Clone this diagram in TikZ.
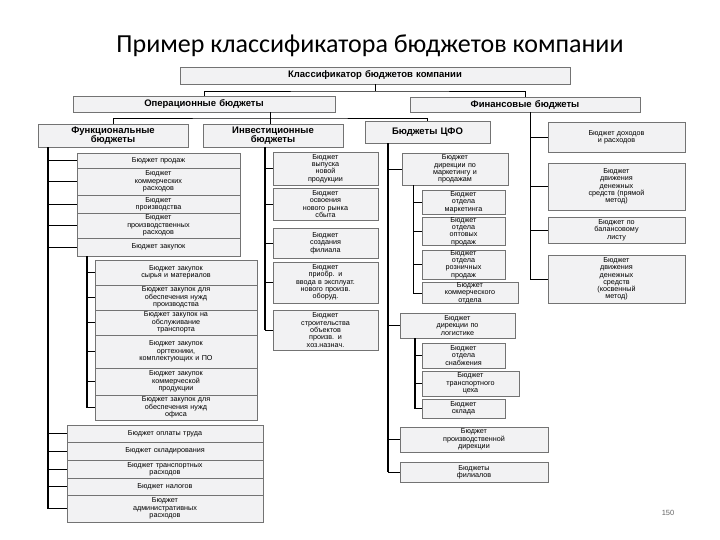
\documentclass[tikz,border=0pt]{standalone}
\usepackage{fontspec}
\setmainfont{Liberation Sans}
\newfontfamily\titlefont{Carlito}
\begin{document}
\begin{tikzpicture}[x=1pt,y=-1pt,
 bx/.style={draw=black!55,line width=0.6pt,fill=blue!8!black!5,align=center,inner sep=0pt,font=\fontsize{7.2}{7.3}\selectfont},
 hd/.style={font=\fontsize{9.5}{9.5}\selectfont\bfseries},
 tr/.style={line width=1.4pt,black},
 br/.style={line width=0.9pt,black}]
\useasboundingbox (0,0) rectangle (720,540);
\newcommand\bx[7][]{\pgfmathsetmacro\bw{#5-#3}\pgfmathsetmacro\bh{#6-#4}\pgfmathsetmacro\tw{#5-#3-2}%
 \node[bx,#1,minimum width=\bw pt,minimum height=\bh pt,text width=\tw pt] (#2) at ({(#3+#5)/2},{(#4+#6)/2}) {#7};}
\node[font=\titlefont\fontsize{26}{28}\selectfont] (title) at (370,46) {Пример классификатора бюджетов компании};
\bx[hd]{top}{180}{67}{570}{84}{Классификатор бюджетов компании}
\bx[hd]{op}{73}{96}{335}{112}{Операционные бюджеты}
\bx[hd]{fin}{410}{97}{640}{112}{Финансовые бюджеты}
\bx[hd]{func}{38}{124}{188}{147}{Функциональные\\бюджеты}
\bx[hd]{inv}{203}{124}{343}{147}{Инвестиционные\\бюджеты}
\bx[hd]{cfo}{365}{121}{490}{143}{Бюджеты ЦФО}
% financial
\bx{f1}{548}{122}{685}{152}{Бюджет доходов\\и расходов}
\bx{f2}{548}{163}{685}{210}{Бюджет\\движения\\денежных\\средств (прямой\\метод)}
\bx{f3}{548}{217}{685}{243}{Бюджет по\\балансовому\\листу}
\bx{f4}{548}{255}{685}{303}{Бюджет\\движения\\денежных\\средств\\(косвенный\\метод)}
% cfo
\bx{c1}{402}{153}{508}{185}{Бюджет\\дирекции по\\маркетингу и\\продажам}
\bx{c11}{422}{190}{505}{214}{Бюджет\\отдела\\маркетинга}
\bx{c12}{422}{218}{505}{245}{Бюджет\\отдела\\оптовых\\продаж}
\bx{c13}{422}{250}{505}{279}{Бюджет\\отдела\\розничных\\продаж}
\bx{c14}{422}{283}{518}{303}{Бюджет\\коммерческого\\отдела}
\bx{c2}{400}{313}{515}{338}{Бюджет\\дирекции по\\логистике}
\bx{c21}{422}{343}{505}{368}{Бюджет\\отдела\\снабжения}
\bx{c22}{422}{371}{519}{396}{Бюджет\\транспортного\\цеха}
\bx{c23}{422}{399}{505}{418}{Бюджет\\склада}
\bx{c3}{400}{427}{548}{452}{Бюджет\\производственной\\дирекции}
\bx{c4}{400}{462}{548}{482}{Бюджеты\\филиалов}
% investment
\bx{i1}{273}{152}{378}{185}{Бюджет\\выпуска\\новой\\продукции}
\bx{i2}{273}{188}{378}{220}{Бюджет\\освоения\\нового рынка\\сбыта}
\bx{i3}{273}{228}{378}{258}{Бюджет\\создания\\филиала}
\bx{i4}{273}{262}{378}{303}{Бюджет\\приобр. и\\ввода в эксплуат.\\нового произв.\\оборуд.}
\bx{i5}{273}{310}{378}{350}{Бюджет\\строительства\\объектов\\произв. и\\хоз.назнач.}
% functional
\bx{p1}{77}{153}{240}{168}{Бюджет продаж}
\bx{p2}{77}{168}{240}{195}{Бюджет\\коммерческих\\расходов}
\bx{p3}{77}{195}{240}{213}{Бюджет\\производства}
\bx{p4}{77}{213}{240}{238}{Бюджет\\производственных\\расходов}
\bx{p5}{77}{238}{240}{256}{Бюджет закупок}
\bx{z1}{95}{260}{257}{285}{Бюджет закупок\\сырья и материалов}
\bx{z2}{95}{285}{257}{310}{Бюджет закупок для\\обеспечения нужд\\производства}
\bx{z3}{95}{310}{257}{335}{Бюджет закупок на\\обслуживание\\транспорта}
\bx{z4}{95}{335}{257}{368}{Бюджет закупок\\оргтехники,\\комплектующих и ПО}
\bx{z5}{95}{368}{257}{395}{Бюджет закупок\\коммерческой\\продукции}
\bx{z6}{95}{395}{257}{420}{Бюджет закупок для\\обеспечения нужд\\офиса}
\bx{q1}{67}{425}{263}{442}{Бюджет оплаты труда}
\bx{q2}{67}{442}{263}{460}{Бюджет складирования}
\bx{q3}{67}{460}{263}{478}{Бюджет транспортных\\расходов}
\bx{q4}{67}{478}{263}{495}{Бюджет налогов}
\bx{q5}{67}{495}{263}{522}{Бюджет\\административных\\расходов}
\node[font=\fontsize{7.5}{8}\selectfont,text=black!60] (pg) at (668,513) {150};
% connectors
\coordinate (ta) at (375,91);
\draw[br] (top.south -| ta) -- (ta);
\draw[br] (op.north) |- (ta) -| (fin.north);
\coordinate (tb) at (270,118);
\draw[br] (op.south -| tb) -- (tb);
\draw[br] (func.north) |- (tb) -| (cfo.north);
\draw[br] (tb) -- (inv.north -| tb);
% financial trunk
\coordinate (ff) at (530,280);
\draw[br] (fin.south -| ff) -- (ff |- f4.west);
\foreach \n in {f1,f2,f3,f4} \draw[br] (ff |- \n.west) -- (\n.west);
% cfo trunk
\coordinate (ct) at (388,143);
\draw[tr] (cfo.south -| ct) -- (ct |- c4.west);
\foreach \n in {c1,c2,c3,c4} \draw[br] (ct |- \n.west) -- (\n.west);
\coordinate (cs1) at (413,185);
\draw[br] (c1.south -| cs1) -- (cs1 |- c14.west);
\foreach \n in {c11,c12,c13,c14} \draw[br] (cs1 |- \n.west) -- (\n.west);
\coordinate (cs2) at (415,338);
\draw[tr] (c2.south -| cs2) -- (cs2 |- c23.west);
\foreach \n in {c21,c22,c23} \draw[br] (cs2 |- \n.west) -- (\n.west);
% investment trunk
\coordinate (it) at (265,147);
\draw[tr] (inv.south -| it) -- (it |- i5.west);
\foreach \n in {i1,i2,i3,i4,i5} \draw[br] (it |- \n.west) -- (\n.west);
% functional trunk
\coordinate (ft) at (48,147);
\draw[tr] (func.south -| ft) -- (ft |- q5.west);
\foreach \n in {p1,p2,p3,p4,p5,q1,q2,q3,q4,q5} \draw[br] (ft |- \n.west) -- (\n.west);
\coordinate (zt) at (87,256);
\draw[tr] (p5.south -| zt) -- (zt |- z6.west);
\foreach \n in {z1,z2,z3,z4,z5,z6} \draw[br] (zt |- \n.west) -- (\n.west);
\end{tikzpicture}
\end{document}
